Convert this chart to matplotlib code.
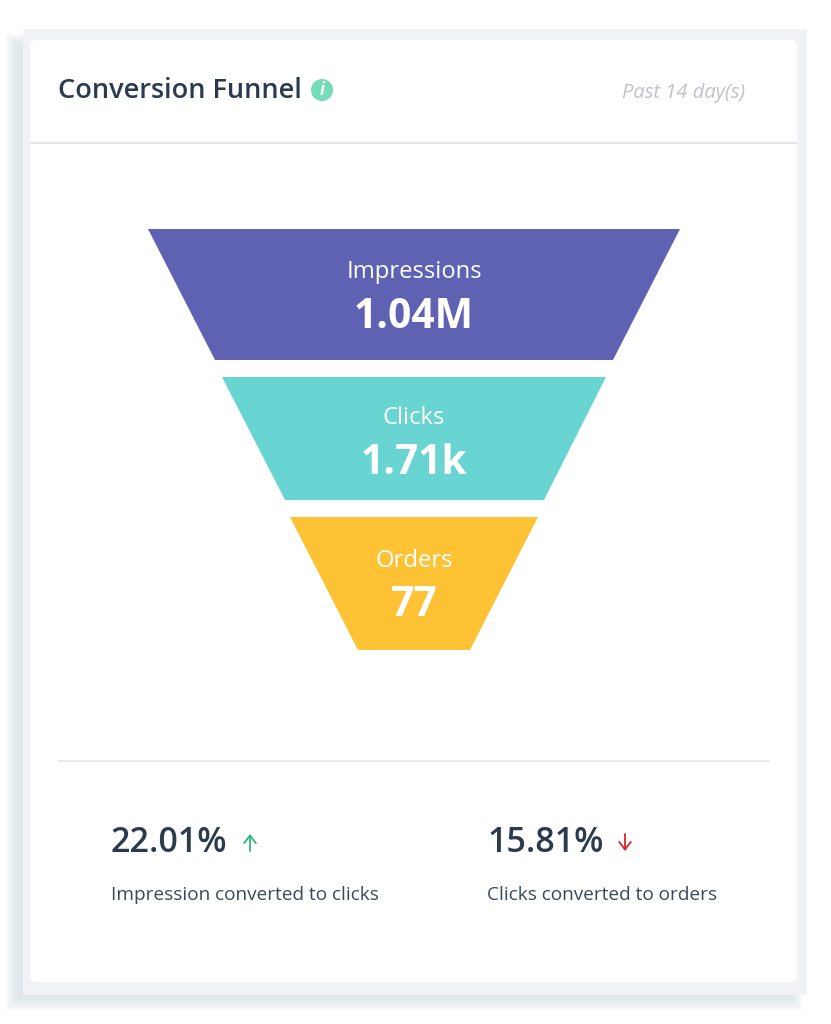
"""Conversion funnel card, drawn in pixel coordinates of the 831x1024 screenshot."""

import matplotlib
matplotlib.use("Agg")
import matplotlib.pyplot as plt
from matplotlib.patches import FancyBboxPatch, Polygon, Rectangle

plt.rcParams["font.family"] = ["Open Sans", "DejaVu Sans"]

# Funnel stages
stages = ["Impressions", "Clicks", "Orders"]
stage_values = ["1.04M", "1.71k", "77"]
stage_colors = ["#5f62b3", "#69d5d2", "#fec334"]

# Edges of each trapezoid
top_left = [148, 222, 290]
top_right = [680, 606, 538]
bottom_left = [215, 285, 358]
bottom_right = [613, 544, 470]
y_top = [229, 377, 517]
y_bottom = [360, 500, 650]
label_y = [272, 418, 561]
value_y = [317, 463, 605]

# Footer stats
stat_values = ["22.01%", "15.81%"]
stat_labels = ["Impression converted to clicks", "Clicks converted to orders"]
stat_x = [111, 487]
arrow_x = [250, 625]
arrow_colors = ["#2bb57f", "#d8262c"]
arrow_up = [True, False]

DARK = "#2b3a4e"

fig = plt.figure(figsize=(8.31, 10.24), dpi=100)
ax = fig.add_axes([0, 0, 1, 1])
ax.set_xlim(0, 831)
ax.set_ylim(1024, 0)
ax.axis("off")

# Soft shadow on the left and the bottom, then the pale frame
for grow in range(8, -9, -2):
    ax.add_patch(Rectangle((14 - grow, 42 - grow), 780 + 2 * grow, 960 + 2 * grow,
                           fc="#dbe5ea", ec="none", alpha=0.22))
ax.add_patch(Rectangle((23, 29), 784, 966, fc="#f0f2f5", ec="none"))

# Card
ax.add_patch(FancyBboxPatch((30, 40), 767, 942, boxstyle="round,pad=0,rounding_size=6",
                            fc="white", ec="none"))

# Header
ax.text(58, 91, "Conversion Funnel", fontsize=19.5, fontweight=600, color=DARK,
        ha="left", va="center")
ax.add_patch(plt.Circle((322, 90), 11, fc="#74dcb6", ec="none"))
ax.text(322, 90, "i", fontsize=12, fontweight="bold", style="italic", color="white",
        ha="center", va="center")
ax.text(683.5, 93, "Past 14 day(s)", fontsize=14.5, style="italic", color="#bfc2c6",
        ha="center", va="center")
ax.plot([30, 797], [143, 143], color="#e4e6e9", lw=1.5, solid_capstyle="butt")

# Funnel
for i, name in enumerate(stages):
    ax.add_patch(Polygon([(top_left[i], y_top[i]), (top_right[i], y_top[i]),
                          (bottom_right[i], y_bottom[i]), (bottom_left[i], y_bottom[i])],
                         closed=True, fc=stage_colors[i], ec="none"))
    ax.text(414, label_y[i], name, fontsize=17.1, color="white", ha="center", va="center")
    ax.text(414, value_y[i], stage_values[i], fontsize=29.3, fontweight="bold", color="white",
            ha="center", va="center")

ax.plot([58, 770], [761, 761], color="#e4e6e9", lw=1.2, solid_capstyle="butt")

# Footer
for i in range(2):
    ax.text(stat_x[i], 843, stat_values[i], fontsize=24.5, fontweight=600, color=DARK,
            ha="left", va="center")
    ax.text(stat_x[i], 895, stat_labels[i], fontsize=13.7, color="#3b4859",
            ha="left", va="center")
    start, end = (851, 834) if arrow_up[i] else (834, 851)
    ax.annotate("", xy=(arrow_x[i], end), xytext=(arrow_x[i], start),
                arrowprops=dict(arrowstyle="->,head_width=0.42,head_length=0.55",
                                color=arrow_colors[i], lw=1.3,
                                shrinkA=0, shrinkB=0))

fig.savefig("out.png", dpi=100, facecolor="white")
